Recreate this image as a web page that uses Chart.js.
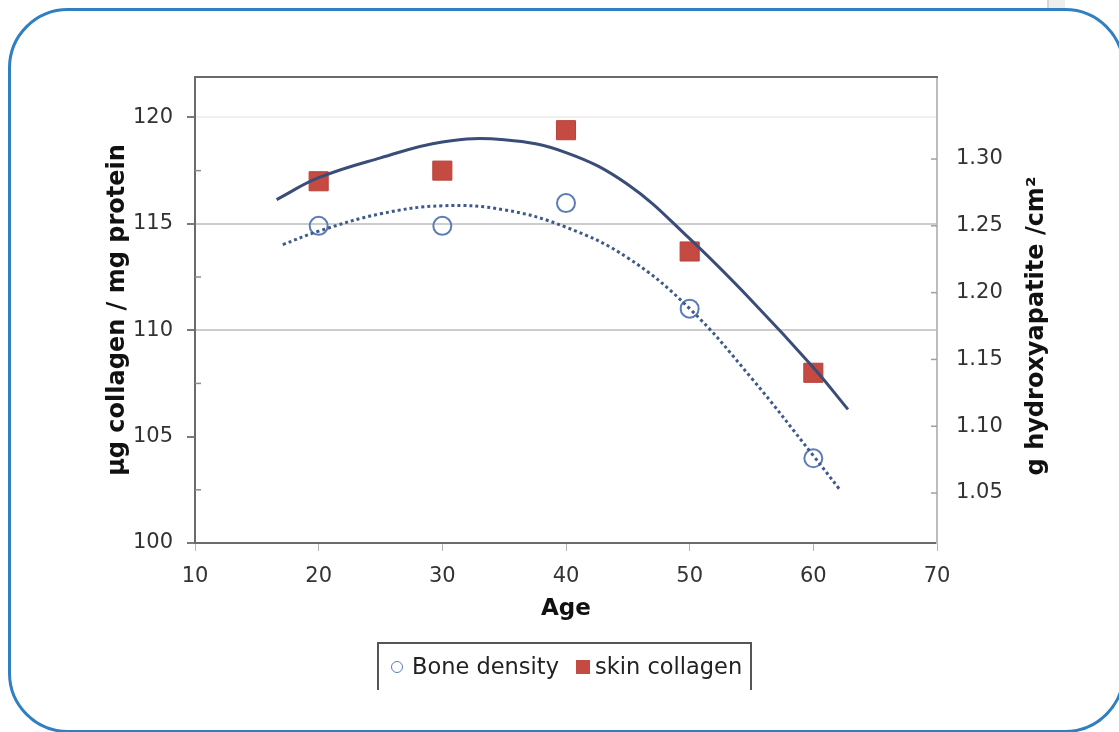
<!DOCTYPE html>
<html>
<head>
<meta charset="utf-8">
<script src="https://cdn.jsdelivr.net/npm/chart.js@4.4.1/dist/chart.umd.min.js"></script>
<style>
html,body{margin:0;padding:0;background:#fff;width:1119px;height:732px;overflow:hidden;position:relative;}
#frame{position:absolute;left:8px;top:8px;width:1117px;height:725px;box-sizing:border-box;border:3px solid #2f7fc1;border-radius:60px;}
#band{position:absolute;left:1047px;top:0;width:16px;height:8px;background:#eeeeee;border-left:2px solid #d6d6d6;}
#cv{position:absolute;left:0;top:0;}
#legbox{position:absolute;left:377px;top:642px;width:375px;height:48px;box-sizing:border-box;border:2px solid #555;border-bottom:none;}
.lg{position:absolute;font-family:"DejaVu Sans";font-size:22.5px;line-height:28px;color:#222;white-space:nowrap;}
#mk1{position:absolute;left:391px;top:661px;width:12px;height:12px;box-sizing:border-box;border:1.6px solid #5b7cb8;border-radius:50%;}
#mk2{position:absolute;left:576px;top:660px;width:14px;height:14px;background:#c44a42;}
</style>
</head>
<body>
<div id="frame"></div>
<div id="band"></div>
<canvas id="cv" width="1119" height="732"></canvas>
<div id="legbox"></div>
<div id="mk1"></div><div class="lg" style="left:412px;top:652px;">Bone density</div>
<div id="mk2"></div><div class="lg" style="left:595px;top:652px;">skin collagen</div>
<script>
// ---- data ----
const ages = [20, 30, 40, 50, 60];
const skinCollagen = [117.0, 117.5, 119.4, 113.7, 108.0];   // µg collagen / mg protein (left axis)
const boneDensity = [1.250, 1.250, 1.267, 1.188, 1.076];    // g hydroxyapatite / cm² (right axis)

const skinTrendAges = [16.6, 20, 25, 30, 35, 40, 45, 50, 55, 60, 62.8];
const skinTrendValues = [116.14, 117.17, 118.1, 118.85, 118.95, 118.35, 116.85, 114.3, 111.4, 108.25, 106.28];
const boneTrendAges = [17.1, 20, 25, 30, 35, 40, 45, 50, 55, 60, 62.1];
const boneTrendValues = [1.236, 1.246, 1.259, 1.265, 1.262, 1.249, 1.226, 1.188, 1.136, 1.078, 1.053];

const xTicks = [10, 20, 30, 40, 50, 60, 70];
const leftTicks = [100, 105, 110, 115, 120];
const leftMinorTicks = [102.5, 107.5, 112.5, 117.5];
const rightTicks = [1.05, 1.10, 1.15, 1.20, 1.25, 1.30];

const xTitle = 'Age';
const leftTitle = 'µg collagen / mg protein';
const rightTitle = 'g hydroxyapatite /cm²';

const pts = (xs, ys) => xs.map((x, i) => ({x: x, y: ys[i]}));

const tickFont = {family: 'DejaVu Sans', size: 21};
const xTitleFont = {family: 'DejaVu Sans', size: 23, weight: 'bold'};
const yTitleFont = {family: 'DejaVu Sans', size: 24, weight: 'bold'};

const decor = {
  id: 'decor',
  afterDraw(chart) {
    const {ctx, chartArea: a, scales} = chart;
    ctx.save();
    ctx.strokeStyle = '#6b6b6b';
    ctx.lineWidth = 2;
    ctx.beginPath(); ctx.moveTo(a.left - 1, a.top); ctx.lineTo(a.right + 1, a.top); ctx.stroke();
    ctx.strokeStyle = '#8c8c8c';
    ctx.lineWidth = 1.5;
    leftMinorTicks.forEach(v => {
      const y = scales.y.getPixelForValue(v);
      ctx.beginPath(); ctx.moveTo(a.left, y); ctx.lineTo(a.left + 6, y); ctx.stroke();
    });
    ctx.strokeStyle = '#a0a0a0';
    rightTicks.forEach(v => {
      const y = scales.y1.getPixelForValue(v);
      ctx.beginPath(); ctx.moveTo(a.right - 6, y); ctx.lineTo(a.right, y); ctx.stroke();
    });
    ctx.translate(1037, 326);
    ctx.rotate(-Math.PI / 2);
    ctx.font = 'bold 24px "DejaVu Sans"';
    ctx.fillStyle = '#111';
    ctx.textAlign = 'center';
    ctx.textBaseline = 'middle';
    ctx.fillText(rightTitle, 0, 0);
    ctx.restore();
  }
};

new Chart(document.getElementById('cv'), {
  type: 'scatter',
  data: {
    datasets: [
      {
        label: 'skin collagen trend',
        data: pts(skinTrendAges, skinTrendValues),
        yAxisID: 'y',
        showLine: true,
        borderColor: '#3a4d78',
        borderWidth: 3,
        pointRadius: 0,
        tension: 0.4
      },
      {
        label: 'Bone density trend',
        data: pts(boneTrendAges, boneTrendValues),
        yAxisID: 'y1',
        showLine: true,
        borderColor: '#3f5a8a',
        borderWidth: 3,
        borderDash: [3, 3],
        pointRadius: 0,
        tension: 0.4
      },
      {
        label: 'Bone density',
        data: pts(ages, boneDensity),
        yAxisID: 'y1',
        pointStyle: 'circle',
        pointRadius: 9,
        borderWidth: 2,
        borderColor: '#5b7cb8',
        backgroundColor: 'rgba(255,255,255,0)'
      },
      {
        label: 'skin collagen',
        data: pts(ages, skinCollagen),
        yAxisID: 'y',
        pointStyle: 'rect',
        pointRadius: 13.5,
        borderWidth: 1,
        borderColor: '#b8423a',
        backgroundColor: '#c44a42'
      }
    ]
  },
  options: {
    responsive: false,
    animation: false,
    devicePixelRatio: 1,
    events: [],
    layout: {padding: {top: 77, left: 100, right: 0, bottom: 105}},
    plugins: {legend: {display: false}, tooltip: {enabled: false}},
    scales: {
      x: {
        type: 'linear',
        min: 10, max: 70,
        afterBuildTicks: s => { s.ticks = xTicks.map(v => ({value: v})); },
        afterFit: s => { s.height = 84; },
        ticks: {font: tickFont, color: '#333', padding: 13, maxRotation: 0},
        grid: {drawOnChartArea: false, drawTicks: true, tickLength: 8, color: '#b4b4b4'},
        border: {display: true, color: '#6b6b6b', width: 2},
        title: {display: true, text: xTitle, font: xTitleFont, color: '#111', padding: {top: 4, bottom: 4}}
      },
      y: {
        type: 'linear',
        position: 'left',
        min: 100, max: 121.9,
        afterBuildTicks: s => { s.ticks = leftTicks.map(v => ({value: v})); },
        afterFit: s => { s.width = 95; },
        ticks: {font: tickFont, color: '#333', padding: 14},
        grid: {
          drawTicks: true, tickLength: 8, tickColor: '#7a7a7a', lineWidth: 2,
          color: c => {
            const v = c.tick ? c.tick.value : null;
            if (v === 110 || v === 115) return '#cdcdcd';
            if (v === 120) return '#f0f0f0';
            return 'rgba(0,0,0,0)';
          }
        },
        border: {display: true, color: '#6b6b6b', width: 2},
        title: {display: true, text: leftTitle, font: yTitleFont, color: '#111', padding: {top: 3, bottom: 3}}
      },
      y1: {
        type: 'linear',
        position: 'right',
        min: 1.0126, max: 1.3614,
        afterBuildTicks: s => { s.ticks = rightTicks.map(v => ({value: v})); },
        afterFit: s => { s.width = 182; },
        ticks: {font: tickFont, color: '#333', padding: 19, callback: v => Number(v).toFixed(2)},
        grid: {display: false, drawTicks: false, drawOnChartArea: false},
        border: {display: true, color: '#bdbdbd', width: 2}
      }
    }
  },
  plugins: [decor]
});
</script>
</body>
</html>
